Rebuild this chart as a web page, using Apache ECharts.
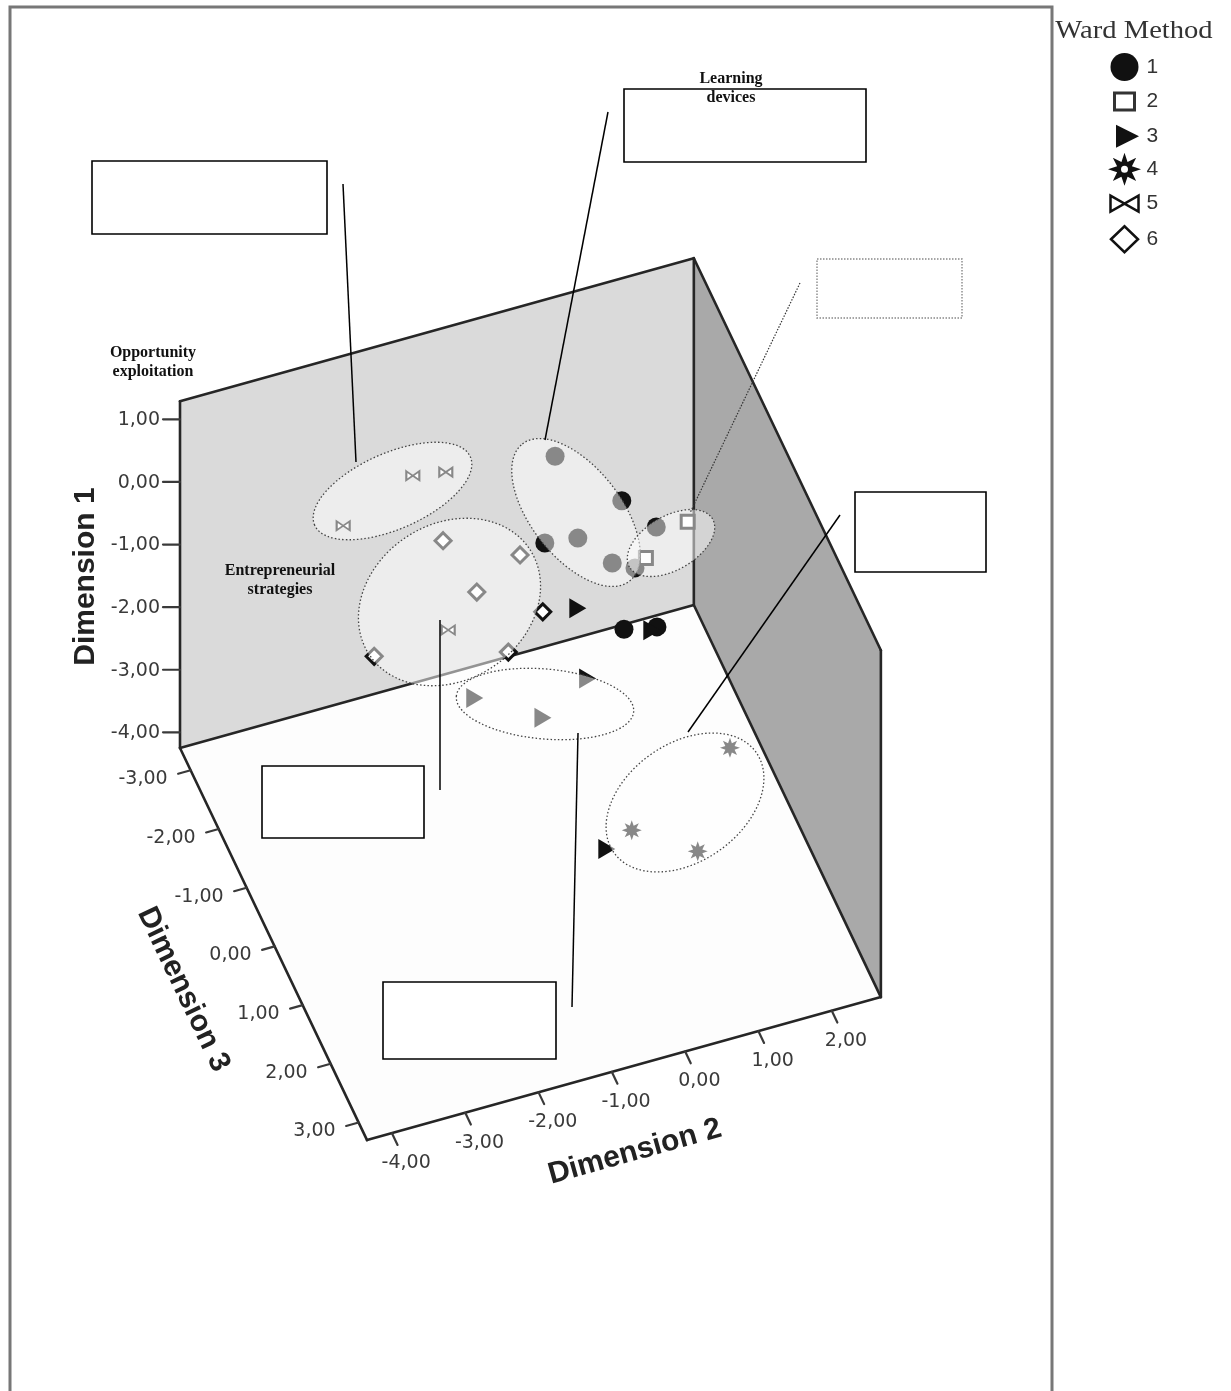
<!DOCTYPE html>
<html>
<head>
<meta charset="utf-8">
<title>Ward Method clusters</title>
<script src="https://cdn.jsdelivr.net/npm/echarts@6/dist/echarts.min.js"></script>
<style>
    html, body { margin: 0; padding: 0; background: #fff; }
    #chart { width: 1231px; height: 1391px; }
</style>
</head>
<body>
<div id="chart"></div>
<script>
    // tick values of the three axes
    var dim1Ticks = [-4, -3, -2, -1, 0, 1];
    var dim2Ticks = [-4, -3, -2, -1, 0, 1, 2];
    var dim3Ticks = [-3, -2, -1, 0, 1, 2, 3];

    // Ward Method clusters
    var clusterNames = ['1', '2', '3', '4', '5', '6'];

    // points: [Dimension 2, Dimension 1, Dimension 3]
    var cluster1 = [
        [0.25, 0.21, -2.0], [1.16, -0.80, -2.0], [0.11, -1.13, -2.0],
        [0.56, -1.20, -2.0], [1.03, -1.75, -2.0], [1.34, -1.93, -2.0],
        [1.63, -1.37, -2.0], [1.19, -2.86, -2.0], [1.64, -2.97, -2.0]
    ];
    var cluster2 = [[2.25, -1.96, -2.5], [1.68, -2.35, -2.5]];
    var cluster3 = [
        [-1.61, -1.17, 0.0], [-0.68, -1.79, 0.0], [-0.07, -1.36, 0.0],
        [0.56, -2.32, -2.0], [1.57, -3.00, -2.0], [-0.19, -3.11, 1.0]
    ];
    var cluster4 = [[1.49, -2.04, 1.0], [0.15, -2.92, 1.0], [1.05, -3.55, 1.0]];
    var cluster5 = [[-1.50, 0.00, -2.5], [-1.05, -0.09, -2.5], [-2.45, -0.49, -2.5], [-1.59, -1.03, -1.0]];
    var cluster6 = [
        [-1.66, 0.42, -1.0], [-0.61, -0.15, -1.0], [-1.20, -0.55, -1.0],
        [-0.30, -1.16, -1.0], [-2.60, -1.12, -1.0], [-0.77, -1.65, -1.0]
    ];

    // 3d box extent and the oblique view
    var range1 = [-4.25, 1.29];
    var range2 = [-4.34, 2.67];
    var range3 = [-3.38, 3.30];
    var corner = [180, 748];
    var u1 = [0, -62.6], u2 = [73.3, -20.4], u3 = [28.0, 58.7];

    function project(d2, d1, d3) {
        var a = d2 - range2[0], b = d1 - range1[0], c = d3 - range3[0];
        return [corner[0] + a * u2[0] + b * u1[0] + c * u3[0],
                corner[1] + a * u2[1] + b * u1[1] + c * u3[1]];
    }
    function fmt(v) {
        return v.toFixed(2).replace('.', ',');
    }
    function starPath(cx, cy, ro, ri, hole) {
        var s = '';
        for (var k = 0; k < 16; k++) {
            var r = k % 2 ? ri : ro;
            var a = Math.PI * k / 8 - Math.PI / 2;
            s += (k ? 'L' : 'M') + (cx + r * Math.cos(a)).toFixed(2) + ',' + (cy + r * Math.sin(a)).toFixed(2);
        }
        s += 'Z';
        if (hole) {
            s += 'M' + (cx + hole) + ',' + cy + 'A' + hole + ',' + hole + ',0,1,0,' + (cx - hole) + ',' + cy +
                 'A' + hole + ',' + hole + ',0,1,0,' + (cx + hole) + ',' + cy + 'Z';
        }
        return s;
    }

    var tickFont = '19px "DejaVu Sans"';
    var titleFont = 'bold 30px "Liberation Sans"';

    function renderBox(params, api) {
        function P(d2, d1, d3) { return api.coord(project(d2, d1, d3)); }
        var lo1 = range1[0], hi1 = range1[1], lo2 = range2[0], hi2 = range2[1], lo3 = range3[0], hi3 = range3[1];
        var kids = [];
        function face(pts, color) {
            kids.push({ type: 'polygon', shape: { points: pts }, style: { fill: color } });
        }
        function seg(a, b, w, color) {
            kids.push({ type: 'line', shape: { x1: a[0], y1: a[1], x2: b[0], y2: b[1] },
                style: { stroke: color || '#262626', lineWidth: w || 2.6, lineCap: 'round' } });
        }
        function label(x, y, text, align) {
            kids.push({ type: 'text', x: x, y: y,
                style: { text: text, font: tickFont, fill: '#3a3a3a', align: align, verticalAlign: 'middle' } });
        }
        face([P(lo2, lo1, lo3), P(hi2, lo1, lo3), P(hi2, lo1, hi3), P(lo2, lo1, hi3)], '#fdfdfd');
        face([P(lo2, lo1, lo3), P(hi2, lo1, lo3), P(hi2, hi1, lo3), P(lo2, hi1, lo3)], '#dadada');
        face([P(hi2, lo1, lo3), P(hi2, lo1, hi3), P(hi2, hi1, hi3), P(hi2, hi1, lo3)], '#a9a9a9');

        seg(P(lo2, lo1, lo3), P(lo2, hi1, lo3));
        seg(P(lo2, hi1, lo3), P(hi2, hi1, lo3));
        seg(P(lo2, lo1, lo3), P(hi2, lo1, lo3));
        seg(P(hi2, lo1, lo3), P(hi2, hi1, lo3));
        seg(P(hi2, hi1, lo3), P(hi2, hi1, hi3));
        seg(P(hi2, hi1, hi3), P(hi2, lo1, hi3));
        seg(P(hi2, lo1, lo3), P(hi2, lo1, hi3));
        seg(P(lo2, lo1, lo3), P(lo2, lo1, hi3));
        seg(P(lo2, lo1, hi3), P(hi2, lo1, hi3));

        // Dimension 1 ticks
        dim1Ticks.forEach(function (v) {
            var p = P(lo2, v, lo3);
            seg(p, [p[0] - 17, p[1]], 2.2, '#3a3a3a');
            label(p[0] - 20, p[1] + 1, fmt(v), 'right');
        });
        // Dimension 2 ticks
        var n3 = Math.sqrt(u3[0] * u3[0] + u3[1] * u3[1]);
        var e3 = [u3[0] / n3, u3[1] / n3];
        dim2Ticks.forEach(function (v) {
            var p = P(v, lo1, hi3);
            seg(p, [p[0] + e3[0] * 13, p[1] + e3[1] * 13], 2.2, '#3a3a3a');
            label(p[0] + e3[0] * 33, p[1] + e3[1] * 33, fmt(v), 'center');
        });
        // Dimension 3 ticks
        var n2 = Math.sqrt(u2[0] * u2[0] + u2[1] * u2[1]);
        var e2 = [-u2[0] / n2, -u2[1] / n2];
        dim3Ticks.forEach(function (v) {
            var p = P(lo2, lo1, v);
            seg(p, [p[0] + e2[0] * 13, p[1] + e2[1] * 13], 2.2, '#3a3a3a');
            label(p[0] - 23, p[1] + 9, fmt(v), 'right');
        });

        // axis titles
        var t1 = P(lo2, (lo1 + hi1) / 2, lo3);
        kids.push({ type: 'text', x: t1[0] - 94, y: t1[1] + 2, rotation: Math.PI / 2,
            style: { text: 'Dimension 1', font: titleFont, fill: '#222', align: 'center', verticalAlign: 'middle' } });
        var t2 = P(-0.7, lo1, hi3);
        kids.push({ type: 'text', x: t2[0] + 1, y: t2[1] + 86, rotation: Math.atan2(-u2[1], u2[0]),
            style: { text: 'Dimension 2', font: titleFont, fill: '#222', align: 'center', verticalAlign: 'middle' } });
        var t3 = P(lo2, lo1, 0.7);
        kids.push({ type: 'text', x: t3[0] - 111, y: t3[1] + 2, rotation: -Math.atan2(u3[1], u3[0]),
            style: { text: 'Dimension 3', font: titleFont, fill: '#222', align: 'center', verticalAlign: 'middle' } });

        return { type: 'group', children: kids };
    }

    // marker shapes
    var triPath = 'path://M0,0L20,10L0,20Z';
    var bowPath = 'path://M0,0L10,5L20,0L20,10L10,5L0,10Z';
    var starSym = 'path://' + starPath(10, 10, 10, 5, 0);
    var markers = [
        { symbol: 'circle', size: 19, style: { color: '#111', opacity: 1 } },
        { symbol: 'rect', size: 13, style: { color: '#fff', borderColor: '#111', borderWidth: 3, opacity: 1 } },
        { symbol: triPath, size: [17, 20], style: { color: '#111', opacity: 1 } },
        { symbol: starSym, size: 20, style: { color: '#111', opacity: 1 } },
        { symbol: bowPath, size: [13, 9], style: { color: '#fff', borderColor: '#111', borderWidth: 1.8, opacity: 1 } },
        { symbol: 'diamond', size: 16, style: { color: '#fff', borderColor: '#111', borderWidth: 3, opacity: 1 } }
    ];
    // legend icons in a 34x34 box (the lone moves keep the box)
    var box = 'path://M0,0M34,34';
    var legendIcons = [
        box + 'M3,17A14,14,0,1,1,31,17A14,14,0,1,1,3,17Z',
        box + 'M7,8.5H27V25.5H7Z',
        box + 'M8.5,5.5L31.5,17L8.5,28.5Z',
        box + starPath(17, 17, 16.5, 8, 3.5),
        box + 'M3,9L17,17L31,9L31,25L17,17L3,25Z',
        box + 'M3.5,17L17,4L30.5,17L17,30Z'
    ];
    var legendStyles = [
        { color: '#111', borderWidth: 0, opacity: 1 },
        { color: '#fff', borderColor: '#333', borderWidth: 3, opacity: 1 },
        { color: '#111', borderWidth: 0, opacity: 1 },
        { color: '#111', borderWidth: 0, opacity: 1 },
        { color: '#fff', borderColor: '#111', borderWidth: 2.5, opacity: 1 },
        { color: '#fff', borderColor: '#111', borderWidth: 2.5, opacity: 1 }
    ];

    var clusters = [cluster1, cluster2, cluster3, cluster4, cluster5, cluster6];
    var pointSeries = clusters.map(function (pts, i) {
        return {
            type: 'scatter',
            name: clusterNames[i],
            z: 3,
            silent: true,
            symbol: markers[i].symbol,
            symbolSize: markers[i].size,
            itemStyle: markers[i].style,
            data: pts.map(function (p) { return project(p[0], p[1], p[2]); })
        };
    });

    // dotted cluster outlines (screen placement of the hand-drawn ellipses)
    var outlines = [
        { cx: 392.5, cy: 491, rx: 85, ry: 38, angle: -23.7 },
        { cx: 576, cy: 512.5, rx: 87, ry: 45, angle: 52 },
        { cx: 671, cy: 543, rx: 48, ry: 27, angle: -30 },
        { cx: 449.5, cy: 602, rx: 96, ry: 78, angle: -33 },
        { cx: 545, cy: 704, rx: 89, ry: 35, angle: 5 },
        { cx: 685, cy: 802.5, rx: 87, ry: 59, angle: -35 }
    ];
    var graphics = outlines.map(function (o) {
        return {
            type: 'ellipse', x: o.cx, y: o.cy, rotation: -o.angle * Math.PI / 180, z: 20, silent: true,
            shape: { cx: 0, cy: 0, rx: o.rx, ry: o.ry },
            style: { fill: 'rgba(255,255,255,0.5)', stroke: '#444', lineWidth: 1.3, lineDash: [1.5, 2.2] }
        };
    });

    // annotation boxes and leader lines
    var boxes = [[92, 161, 235, 73], [624, 89, 242, 73], [855, 492, 131, 80], [262, 766, 162, 72], [383, 982, 173, 77]];
    boxes.forEach(function (b) {
        graphics.push({ type: 'rect', z: 30, silent: true, shape: { x: b[0], y: b[1], width: b[2], height: b[3] },
            style: { fill: '#fff', stroke: '#000', lineWidth: 1.6 } });
    });
    graphics.push({ type: 'rect', z: 30, silent: true, shape: { x: 817, y: 259, width: 145, height: 59 },
        style: { fill: '#fff', stroke: '#888', lineWidth: 1.4, lineDash: [1.5, 1.5] } });
    var leaders = [[343, 184, 356, 462], [608, 112, 545, 440], [840, 515, 688, 732], [440, 620, 440, 790], [578, 733, 572, 1007]];
    leaders.forEach(function (l) {
        graphics.push({ type: 'line', z: 30, silent: true, shape: { x1: l[0], y1: l[1], x2: l[2], y2: l[3] },
            style: { stroke: '#000', lineWidth: 1.5 } });
    });
    graphics.push({ type: 'line', z: 30, silent: true, shape: { x1: 800, y1: 283, x2: 690, y2: 513 },
        style: { stroke: '#333', lineWidth: 1.2, lineDash: [1.5, 1.5] } });

    var notes = [
        { x: 731, y: 88, text: 'Learning\ndevices' },
        { x: 153, y: 362, text: 'Opportunity\nexploitation' },
        { x: 280, y: 580, text: 'Entrepreneurial\nstrategies' }
    ];
    notes.forEach(function (n) {
        graphics.push({ type: 'text', z: 31, silent: true, x: n.x, y: n.y,
            style: { text: n.text, font: 'bold 16px "Liberation Serif"', lineHeight: 19, fill: '#111', align: 'center', verticalAlign: 'middle' } });
    });

    // outer frame and legend title
    graphics.push({ type: 'rect', z: 40, silent: true, shape: { x: 10, y: 7, width: 1042, height: 1420 },
        style: { fill: 'none', stroke: '#777', lineWidth: 3 } });
    graphics.push({ type: 'text', z: 40, silent: true, x: 1134, y: 31, scaleX: 1.1,
        style: { text: 'Ward Method', font: '26px "Liberation Serif"', fill: '#333', align: 'center', verticalAlign: 'middle' } });

    var chart = echarts.init(document.getElementById('chart'));
    chart.setOption({
        animation: false,
        backgroundColor: '#fff',
        grid: { left: 0, right: 0, top: 0, bottom: 0 },
        xAxis: { type: 'value', min: 0, max: 1231, show: false },
        yAxis: { type: 'value', min: 0, max: 1391, inverse: true, show: false },
        legend: {
            orient: 'vertical',
            left: 1106,
            top: 50,
            padding: 0,
            itemWidth: 34,
            itemHeight: 34,
            itemGap: -0.9,
            selectedMode: false,
            textStyle: { fontSize: 21, color: '#333', fontFamily: 'Liberation Sans' },
            data: clusterNames.map(function (n, i) {
                return { name: n, icon: legendIcons[i], itemStyle: legendStyles[i] };
            })
        },
        graphic: { elements: graphics },
        series: [{
            type: 'custom',
            name: 'box',
            z: 1,
            silent: true,
            renderItem: renderBox,
            data: [[0, 0]]
        }].concat(pointSeries)
    });
</script>
</body>
</html>
